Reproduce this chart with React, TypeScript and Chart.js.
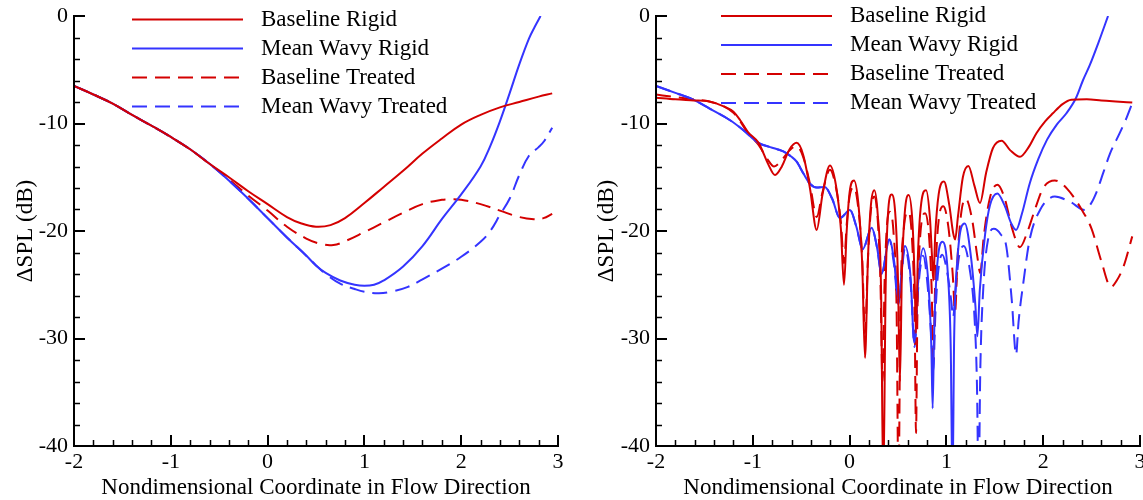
import React, { useEffect, useRef } from 'react';
import { Chart, registerables } from 'chart.js';

Chart.register(...registerables);

// ---------- labels & ticks ----------
const legendLabels = ['Baseline Rigid', 'Mean Wavy Rigid', 'Baseline Treated', 'Mean Wavy Treated'];
const xTitle = 'Nondimensional Coordinate in Flow Direction';
const yTitle = 'ΔSPL (dB)';
const xMajorTicks = [-2, -1, 0, 1, 2, 3];
const xMinorTicks = [-1.8, -1.6, -1.4, -1.2, -0.8, -0.6, -0.4, -0.2, 0.2, 0.4, 0.6, 0.8, 1.2, 1.4, 1.6, 1.8, 2.2, 2.4, 2.6, 2.8];
const yMajorTicks = [-40, -30, -20, -10, 0];
const yMinorTicks = [-38, -36, -34, -32, -28, -26, -24, -22, -18, -16, -14, -12, -8, -6, -4, -2];

// ---------- left panel data ----------
const leftSharedStart: [number, number][] = [
  [-2, -6.5], [-1.8, -7.3], [-1.6, -8.15], [-1.4, -9.2], [-1.2, -10.2], [-1.0, -11.25], [-0.8, -12.4], [-0.6, -13.75],
];
const leftBaselineRigidTail: [number, number][] = [
  [-0.4, -15.0], [-0.2, -16.3], [0.0, -17.5], [0.2, -18.7], [0.35, -19.3], [0.5, -19.6], [0.65, -19.45], [0.8, -18.8],
  [1.0, -17.4], [1.2, -15.9], [1.4, -14.4], [1.6, -12.8], [1.8, -11.4], [2.0, -10.1], [2.2, -9.2], [2.4, -8.5],
  [2.6, -8.0], [2.8, -7.5], [2.94, -7.2],
];
const leftBaselineTreatedTail: [number, number][] = [
  [-0.4, -15.2], [-0.2, -16.7], [0.0, -18.1], [0.2, -19.6], [0.4, -20.7], [0.55, -21.2], [0.68, -21.3], [0.8, -20.95],
  [1.0, -20.1], [1.2, -19.2], [1.4, -18.3], [1.6, -17.5], [1.8, -17.1], [1.9, -17.05], [2.0, -17.1], [2.2, -17.5],
  [2.4, -18.1], [2.6, -18.7], [2.75, -18.9], [2.85, -18.8], [2.94, -18.4],
];
const leftWavySharedMid: [number, number][] = [
  [-0.4, -15.3], [-0.2, -17.0], [0.0, -18.8], [0.2, -20.6], [0.4, -22.3], [0.5, -23.2],
];
const leftWavyRigidTail: [number, number][] = [
  [0.6, -23.9], [0.75, -24.6], [0.9, -25.0], [1.0, -25.1], [1.1, -25.0], [1.2, -24.6], [1.4, -23.3], [1.6, -21.4], [1.8, -18.9],
  [2.0, -16.6], [2.2, -14.0], [2.3, -12.1], [2.4, -9.8], [2.5, -7.2], [2.6, -4.5], [2.7, -2.1], [2.76, -1.0], [2.82, 0],
];
const leftWavyTreatedTail: [number, number][] = [
  [0.6, -24.0], [0.75, -24.9], [0.9, -25.4], [1.0, -25.65], [1.15, -25.8], [1.3, -25.6], [1.45, -25.2], [1.6, -24.5], [1.8, -23.5],
  [2.0, -22.4], [2.2, -21.0], [2.3, -20.0], [2.4, -18.5], [2.5, -17.0], [2.6, -14.8], [2.7, -13.0], [2.8, -12.2],
  [2.86, -11.6], [2.94, -10.4],
];

// ---------- right panel data ----------
const rightBaselineRigid: [number, number][] = [
  [-2, -7.6], [-1.8, -7.75], [-1.61, -7.85], [-1.45, -7.95], [-1.3, -8.4], [-1.2, -8.9], [-1.13, -9.7], [-1.05, -10.8],
  [-0.94, -11.8], [-0.84, -13.8], [-0.77, -14.8], [-0.7, -14.0], [-0.62, -12.4], [-0.547, -11.8], [-0.48, -12.9],
  [-0.41, -16.0], [-0.34, -19.9], [-0.28, -16.6], [-0.203, -13.9], [-0.14, -15.8], [-0.09, -19.8], [-0.058, -25.0],
  [-0.03, -20.0], [0.0, -16.4], [0.045, -15.3], [0.09, -17.4], [0.13, -23.0], [0.159, -31.8], [0.19, -22.5],
  [0.22, -17.6], [0.255, -16.2], [0.29, -18.4], [0.325, -25.5], [0.348, -44], [0.372, -25.5], [0.395, -18.6],
  [0.435, -16.6], [0.475, -18.8], [0.5, -24.5], [0.52, -34], [0.54, -24.0], [0.57, -18.3], [0.61, -16.65],
  [0.65, -19.3], [0.672, -24.5], [0.686, -29.5], [0.705, -22.5], [0.74, -17.4], [0.79, -16.2], [0.83, -18.8],
  [0.852, -22.5], [0.865, -24.6], [0.885, -20.3], [0.92, -16.6], [0.975, -15.4], [1.03, -17.6], [1.07, -20.2],
  [1.09, -20.8], [1.12, -18.6], [1.17, -15.0], [1.227, -13.95], [1.29, -15.8], [1.347, -17.4], [1.41, -14.6],
  [1.48, -12.3], [1.57, -11.6], [1.66, -12.5], [1.76, -13.1], [1.85, -12.2], [1.93, -10.9], [2.02, -9.8],
  [2.1, -9.05], [2.2, -8.2], [2.29, -7.8], [2.45, -7.75], [2.6, -7.85], [2.75, -7.95], [2.92, -8.05],
];
const rightBaselineTreated: [number, number][] = [
  [-2, -7.3], [-1.8, -7.55], [-1.61, -7.75], [-1.45, -7.95], [-1.3, -8.4], [-1.2, -9.0], [-1.13, -9.8], [-1.05, -10.9],
  [-0.94, -12.0], [-0.85, -13.3], [-0.78, -14.0], [-0.7, -13.4], [-0.62, -12.5], [-0.55, -12.1], [-0.48, -13.1],
  [-0.41, -15.6], [-0.34, -18.7], [-0.28, -16.4], [-0.203, -14.3], [-0.14, -16.0], [-0.09, -19.2], [-0.058, -23.0],
  [-0.03, -19.4], [0.0, -16.8], [0.045, -15.9], [0.09, -17.9], [0.13, -22.5], [0.159, -29.5], [0.19, -22.5],
  [0.22, -18.1], [0.255, -16.8], [0.29, -18.9], [0.318, -24.5], [0.34, -34], [0.362, -24.5], [0.385, -19.6],
  [0.417, -18.2], [0.455, -20.3], [0.485, -27], [0.505, -44], [0.525, -27], [0.56, -19.8], [0.607, -18.2],
  [0.645, -20.8], [0.672, -28], [0.686, -38.8], [0.7, -28], [0.73, -20.4], [0.78, -18.35], [0.82, -20.4],
  [0.848, -25.5], [0.865, -32], [0.885, -24.5], [0.92, -19.0], [0.968, -17.7], [1.02, -19.6], [1.065, -24.0],
  [1.09, -27.5], [1.115, -22.5], [1.155, -18.2], [1.2, -17.0], [1.265, -18.9], [1.32, -22.4], [1.35, -23.9],
  [1.385, -20.6], [1.45, -16.9], [1.526, -15.7], [1.6, -16.9], [1.68, -19.8], [1.76, -21.5], [1.84, -20.0],
  [1.9, -18.4], [2.0, -16.0], [2.12, -15.3], [2.25, -16.1], [2.4, -18.05], [2.5, -19.8], [2.6, -22.8],
  [2.7, -25.2], [2.76, -24.6], [2.83, -23.3], [2.92, -20.5],
];
const rightWavySharedStart: [number, number][] = [
  [-2, -6.5], [-1.8, -7.15], [-1.61, -7.8], [-1.45, -8.6], [-1.235, -9.7], [-1.1, -10.6], [-0.943, -11.8],
  [-0.82, -12.2], [-0.685, -12.6], [-0.6, -13.1], [-0.547, -13.55], [-0.48, -14.6], [-0.41, -15.6], [-0.34, -15.95],
  [-0.257, -15.9], [-0.18, -17.0], [-0.1, -18.8], [0.004, -18.05], [0.07, -19.6], [0.135, -21.7], [0.228, -19.7],
  [0.285, -21.6], [0.33, -24.0], [0.41, -20.8],
];
const rightWavyRigidTail: [number, number][] = [
  [0.46, -22.8], [0.503, -26.3], [0.572, -21.4], [0.63, -24.3], [0.668, -30.4], [0.71, -24.5], [0.76, -21.6],
  [0.815, -25.0], [0.845, -31], [0.858, -36.5], [0.872, -30], [0.9, -23.8], [0.96, -21.0], [1.015, -24.0],
  [1.045, -31], [1.063, -44], [1.08, -30], [1.115, -22.5], [1.19, -19.3], [1.255, -22.5], [1.3, -27.0],
  [1.32, -29.8], [1.345, -25.5], [1.4, -20.3], [1.45, -17.6], [1.526, -16.5], [1.6, -17.6], [1.67, -19.3],
  [1.72, -19.9], [1.78, -18.4], [1.86, -15.6], [1.95, -13.3], [2.04, -11.5], [2.14, -10.1], [2.24, -9.05],
  [2.34, -7.6], [2.41, -6.0], [2.48, -4.6], [2.57, -2.5], [2.67, 0],
];
const rightWavyTreatedTail: [number, number][] = [
  [0.46, -23.2], [0.503, -26.8], [0.572, -21.6], [0.63, -24.8], [0.672, -30.8], [0.71, -25.2], [0.76, -22.3],
  [0.815, -26], [0.848, -30.5], [0.865, -33.0], [0.885, -28], [0.915, -23.8], [0.957, -22.2], [1.015, -24.2],
  [1.05, -26.5], [1.07, -28.0], [1.095, -25.5], [1.13, -22.4], [1.18, -21.4], [1.24, -23.5], [1.29, -28],
  [1.315, -34], [1.333, -44], [1.35, -33], [1.38, -25.5], [1.43, -20.8], [1.49, -19.8], [1.56, -20.3],
  [1.62, -21.5], [1.675, -26.4], [1.72, -31.5], [1.745, -28.5], [1.795, -24.8], [1.86, -20.8], [1.97, -18.0],
  [2.12, -16.8], [2.28, -17.3], [2.43, -18.05], [2.49, -17.5], [2.55, -16.4], [2.62, -14.6], [2.69, -12.8],
  [2.79, -10.9], [2.86, -9.5], [2.92, -8.1],
];

const leftSeries = [
  [...leftSharedStart, ...leftBaselineRigidTail],
  [...leftSharedStart, ...leftWavySharedMid, ...leftWavyRigidTail],
  [...leftSharedStart, ...leftBaselineTreatedTail],
  [...leftSharedStart, ...leftWavySharedMid, ...leftWavyTreatedTail],
];
const rightSeries = [
  rightBaselineRigid,
  [...rightWavySharedStart, ...rightWavyRigidTail],
  rightBaselineTreated,
  [...rightWavySharedStart, ...rightWavyTreatedTail],
];

// ---------- styles ----------
const RED = '#d40000';
const BLUE = '#3434ff';
const seriesColors = [RED, BLUE, RED, BLUE];
const seriesDashes = [[], [], [15, 8], [15, 8]];
const FONT_FAMILY = '"Liberation Serif", "Times New Roman", serif';

const axesPlugin = {
  id: 'inwardAxes',
  afterDatasetsDraw(chart: any) {
    const { ctx, chartArea, scales } = chart;
    const { left, right, top, bottom } = chartArea;
    const xs = scales.x;
    const ys = scales.y;
    ctx.save();
    ctx.strokeStyle = '#000';
    ctx.lineCap = 'butt';
    ctx.lineWidth = 1.5;
    ctx.beginPath();
    xMinorTicks.forEach((v) => {
      const px = Math.round(xs.getPixelForValue(v)) + 0.5;
      ctx.moveTo(px, bottom);
      ctx.lineTo(px, bottom - 6);
    });
    yMinorTicks.forEach((v) => {
      const py = Math.round(ys.getPixelForValue(v)) + 0.5;
      ctx.moveTo(left, py);
      ctx.lineTo(left + 6, py);
    });
    ctx.stroke();
    ctx.lineWidth = 2;
    ctx.beginPath();
    xMajorTicks.forEach((v) => {
      const px = Math.round(xs.getPixelForValue(v));
      ctx.moveTo(px, bottom);
      ctx.lineTo(px, bottom - 11);
    });
    yMajorTicks.forEach((v) => {
      const py = Math.round(ys.getPixelForValue(v));
      ctx.moveTo(left, py);
      ctx.lineTo(left + 11, py);
    });
    ctx.stroke();
    ctx.lineCap = 'square';
    ctx.beginPath();
    ctx.moveTo(Math.round(left), Math.round(top));
    ctx.lineTo(Math.round(left), Math.round(bottom));
    ctx.lineTo(Math.round(right), Math.round(bottom));
    ctx.stroke();
    ctx.restore();
  },
};

const legendPlugin = {
  id: 'panelLegend',
  afterDatasetsDraw(chart: any, _args: any, opts: any) {
    const { ctx, chartArea } = chart;
    chart.data.datasets.forEach((ds: any, i: number) => {
      const y = opts.rows[i];
      ctx.save();
      ctx.strokeStyle = ds.borderColor;
      ctx.lineWidth = 2;
      ctx.setLineDash(ds.borderDash || []);
      ctx.beginPath();
      ctx.moveTo(chartArea.left + opts.lineStart, y);
      ctx.lineTo(chartArea.left + opts.lineEnd, y);
      ctx.stroke();
      ctx.setLineDash([]);
      ctx.fillStyle = '#000';
      ctx.font = `23px ${FONT_FAMILY}`;
      ctx.textBaseline = 'middle';
      ctx.textAlign = 'left';
      ctx.fillText(ds.label, chartArea.left + opts.textStart, y);
      ctx.restore();
    });
  },
};

function makeConfig(series: [number, number][][], p: any): any {
  return {
    type: 'line',
    data: {
      datasets: series.map((s, i) => ({
        label: legendLabels[i],
        data: s.map(([x, y]) => ({ x, y })),
        borderColor: seriesColors[i],
        borderDash: seriesDashes[i],
        borderWidth: 2,
        pointRadius: 0,
        fill: false,
        cubicInterpolationMode: p.interp,
        tension: 0.4,
      })),
    },
    options: {
      animation: false,
      responsive: false,
      devicePixelRatio: 1,
      layout: { padding: { left: 0, right: p.padRight, top: 16, bottom: 0 } },
      plugins: {
        legend: { display: false },
        tooltip: { enabled: false },
        panelLegend: p.legend,
      },
      scales: {
        x: {
          type: 'linear',
          min: -2,
          max: 3,
          afterBuildTicks: (s: any) => {
            s.ticks = xMajorTicks.map((v) => ({ value: v }));
          },
          grid: { display: false, drawTicks: false },
          border: { display: false },
          ticks: { color: '#000', font: { family: FONT_FAMILY, size: 22 }, padding: 3, maxRotation: 0, autoSkip: false },
          title: {
            display: true,
            text: xTitle,
            color: '#000',
            font: { family: FONT_FAMILY, size: 23, lineHeight: 1.05 },
            padding: { top: 0, bottom: 0 },
          },
          afterFit: (s: any) => {
            s.height = 54;
            s.paddingLeft = 0;
            s.paddingRight = 0;
          },
        },
        y: {
          type: 'linear',
          min: -40,
          max: 0,
          afterBuildTicks: (s: any) => {
            s.ticks = yMajorTicks.map((v) => ({ value: v }));
          },
          grid: { display: false, drawTicks: false },
          border: { display: false },
          ticks: { color: '#000', font: { family: FONT_FAMILY, size: 22 }, padding: 6, autoSkip: false },
          title: {
            display: true,
            text: yTitle,
            color: '#000',
            font: { family: FONT_FAMILY, size: 23, lineHeight: 1.2 },
            padding: { top: p.yTitlePad, bottom: 0 },
          },
          afterFit: (s: any) => {
            s.width = p.yWidth;
            s.paddingTop = 0;
            s.paddingBottom = 0;
          },
        },
      },
    },
    plugins: [axesPlugin, legendPlugin],
  };
}

export default function App() {
  const leftRef = useRef<HTMLCanvasElement>(null);
  const rightRef = useRef<HTMLCanvasElement>(null);

  useEffect(() => {
    const a = new Chart(
      leftRef.current as HTMLCanvasElement,
      makeConfig(leftSeries, {
        interp: 'default',
        padRight: 22,
        yWidth: 74,
        yTitlePad: 12,
        legend: { lineStart: 58, lineEnd: 169, textStart: 187, rows: [19.5, 48.5, 77.5, 106.5] },
      })
    );
    const b = new Chart(
      rightRef.current as HTMLCanvasElement,
      makeConfig(rightSeries, {
        interp: 'monotone',
        padRight: 3,
        yWidth: 76,
        yTitlePad: 13,
        legend: { lineStart: 65, lineEnd: 176, textStart: 194, rows: [16, 45, 74, 103] },
      })
    );
    return () => {
      a.destroy();
      b.destroy();
    };
  }, []);

  return (
    <div style={{ position: 'absolute', left: 0, top: 0, width: 1143, height: 500, background: '#fff', overflow: 'hidden' }}>
      <canvas ref={leftRef} width={580} height={500} style={{ position: 'absolute', left: 0, top: 0 }} />
      <canvas ref={rightRef} width={563} height={500} style={{ position: 'absolute', left: 580, top: 0 }} />
    </div>
  );
}
